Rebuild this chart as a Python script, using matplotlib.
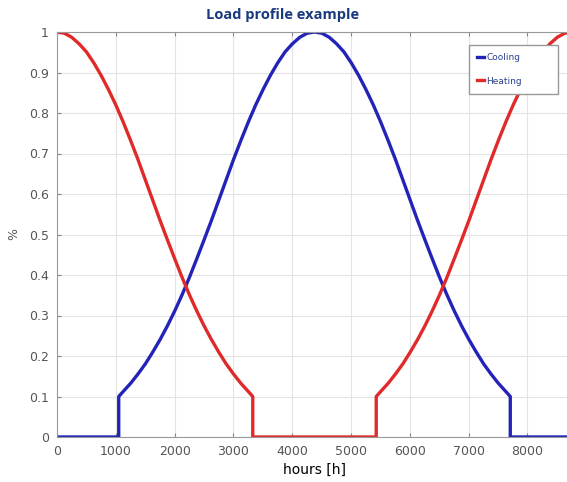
import matplotlib.pyplot as plt

# hours of the year and load fraction
cooling_hours = ([0, 1050, 1050] + list(range(1130, 4381, 125))
                 + list(range(4505, 7631, 125)) + [7710, 7710, 8760])
cooling_load = [0, 0, 0.100,
                0.113, 0.133, 0.156, 0.181, 0.210, 0.241, 0.275, 0.312, 0.352,
                0.395, 0.441, 0.488, 0.536, 0.586, 0.636, 0.686, 0.733, 0.778,
                0.820, 0.858, 0.893, 0.924, 0.951, 0.971, 0.987, 0.997, 1.000,
                0.997, 0.987, 0.971, 0.951, 0.924, 0.893, 0.858, 0.820, 0.778,
                0.733, 0.686, 0.636, 0.586, 0.536, 0.488, 0.441, 0.395, 0.352,
                0.312, 0.275, 0.241, 0.210, 0.181, 0.156, 0.133, 0.113,
                0.100, 0, 0]

heating_hours = (list(range(0, 3251, 125)) + [3330, 3330, 5430, 5430]
                 + list(range(5510, 8761, 125)))
heating_load = [1.000, 0.997, 0.987, 0.971, 0.951, 0.924, 0.893, 0.858, 0.820,
                0.778, 0.733, 0.686, 0.636, 0.586, 0.536, 0.488, 0.441, 0.395,
                0.352, 0.312, 0.275, 0.241, 0.210, 0.181, 0.156, 0.133, 0.113,
                0.100, 0, 0, 0.100,
                0.113, 0.133, 0.156, 0.181, 0.210, 0.241, 0.275, 0.312, 0.352,
                0.395, 0.441, 0.488, 0.536, 0.586, 0.636, 0.686, 0.733, 0.778,
                0.820, 0.858, 0.893, 0.924, 0.951, 0.971, 0.987, 0.997, 1.000]

x_ticks = [0, 1000, 2000, 3000, 4000, 5000, 6000, 7000, 8000]
y_ticks = [0, 0.1, 0.2, 0.3, 0.4, 0.5, 0.6, 0.7, 0.8, 0.9, 1]
y_labels = ["0", "0.1", "0.2", "0.3", "0.4", "0.5", "0.6", "0.7", "0.8", "0.9", "1"]

fig = plt.figure(figsize=(5.67, 4.82), dpi=100)
ax = fig.add_axes([57 / 567, 1 - 437 / 482, 515 / 567, 405 / 482])

ax.plot(cooling_hours, cooling_load, color="#2323b8", lw=2.4, label="Cooling")
ax.plot(heating_hours, heating_load, color="#e02a2a", lw=2.4, label="Heating")

ax.set_xlim(0, 8760)
ax.set_ylim(0, 1)
ax.set_xticks(x_ticks)
ax.set_yticks(y_ticks)
ax.set_yticklabels(y_labels)
ax.grid(True, color="#e4e4e4", lw=0.8)
ax.set_axisbelow(True)
ax.tick_params(direction="in", top=True, right=True, length=3, color="#888888",
               labelsize=9, labelcolor="#555555", pad=6)
for s in ax.spines.values():
    s.set_color("#999999")
    s.set_linewidth(0.8)

ax.set_xlabel("hours [h]", fontsize=10, color="black", labelpad=3)
ax.set_ylabel("%", fontsize=9, color="#555555", labelpad=6)

leg = ax.legend(loc="upper left", bbox_to_anchor=(0.80, 0.832, 0.173, 0.136),
                mode="expand", fontsize=6.5, handlelength=0.8, handletextpad=0.2,
                labelspacing=1.6, borderpad=0.9, fancybox=False, framealpha=1,
                edgecolor="#999999", borderaxespad=0)
leg.get_frame().set_linewidth(1.0)
for t in leg.get_texts():
    t.set_color("#2a3f8f")

fig.text(283 / 567, 1 - 15 / 482, "Load profile example", ha="center", va="center",
         fontsize=10.5, fontweight="bold", color="#1a3a80", family="Open Sans")

fig.savefig("out.png", dpi=100)
